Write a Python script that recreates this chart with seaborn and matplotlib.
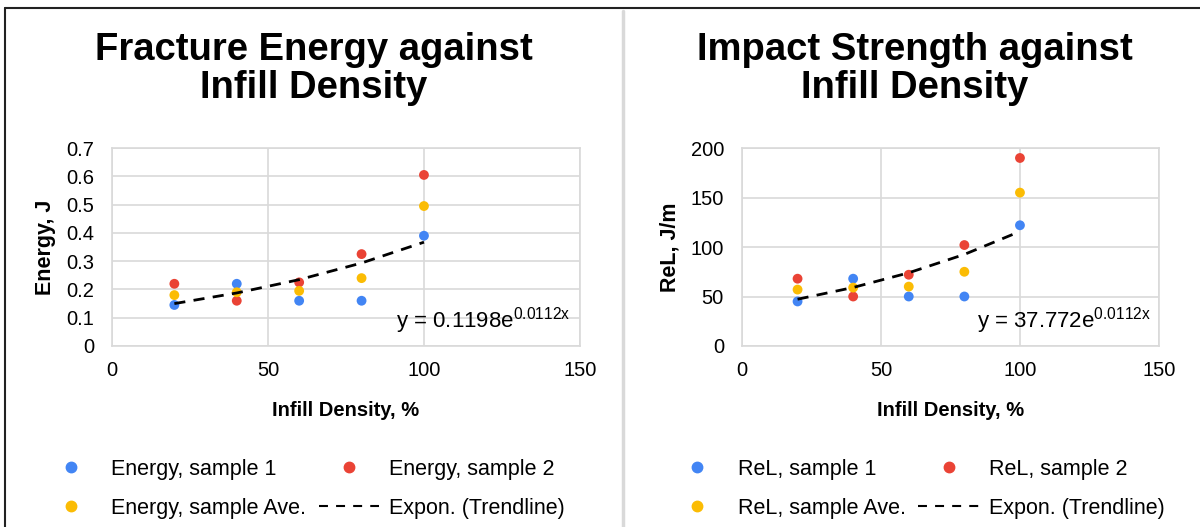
"""Fracture energy and impact strength against infill density."""

import matplotlib
matplotlib.use("Agg")
import matplotlib.pyplot as plt
import numpy as np
import pandas as pd
import seaborn as sns
from matplotlib.lines import Line2D

# ---- data ----
infill = [20, 40, 60, 80, 100]

energy_s1 = [0.145, 0.22, 0.16, 0.16, 0.39]
energy_s2 = [0.22, 0.16, 0.225, 0.325, 0.605]
energy_ave = [0.18, 0.19, 0.195, 0.24, 0.495]

rel_s1 = [45, 68, 50, 50, 122]
rel_s2 = [68, 50, 72, 102, 190]
rel_ave = [57, 59, 60, 75, 155]

# exponential trendlines as printed on the charts: y = a * exp(b * x)
energy_trend = (0.1198, 0.0112)
rel_trend = (37.772, 0.0112)

BLUE, RED, YELLOW = "#4285F4", "#EA4335", "#FBBC04"
GRID = "#D9D9D9"
FONT = ["Liberation Sans", "DejaVu Sans"]

sns.set_theme(style="whitegrid")
plt.rcParams["font.family"] = FONT
plt.rcParams["mathtext.fontset"] = "custom"
plt.rcParams["mathtext.rm"] = "Liberation Sans"
plt.rcParams.update({
    "text.color": "black",
    "axes.labelcolor": "black",
    "xtick.color": "black",
    "ytick.color": "black",
})


def draw_panel(fig, rect, title, title_x, ylabel, prefix, s1, s2, ave, trend,
               ylim, yticks, eq_text, legend_x):
    ax = fig.add_axes(rect)
    df = pd.DataFrame({
        "x": infill * 3,
        "y": s1 + s2 + ave,
        "series": [f"{prefix}, sample 1"] * 5 + [f"{prefix}, sample 2"] * 5
        + [f"{prefix}, sample Ave."] * 5,
    })
    palette = dict(zip(df["series"].unique(), [BLUE, RED, YELLOW]))
    sns.scatterplot(data=df, x="x", y="y", hue="series", palette=palette,
                    s=50, linewidth=0, legend=False, ax=ax, zorder=3)

    a, b = trend
    tx = np.array(infill, dtype=float)
    ax.plot(tx, a * np.exp(b * tx), color="black", lw=2,
            linestyle=(0, (4, 3)), zorder=4)

    ax.set_xlim(0, 150)
    ax.set_xticks([0, 50, 100, 150])
    ax.set_ylim(*ylim)
    ax.set_yticks(yticks)
    ax.set_yticklabels([f"{t:g}" for t in yticks])
    ax.grid(True, color=GRID, lw=1.2)
    for sp in ax.spines.values():
        sp.set_color(GRID)
        sp.set_linewidth(1.2)
    ax.tick_params(length=0, labelsize=14.5)
    ax.tick_params(axis="x", pad=11)
    ax.tick_params(axis="y", pad=13)
    ax.set_xlabel("Infill Density, %", fontsize=14.5, fontweight="bold", labelpad=15)
    ax.set_ylabel(ylabel, fontsize=15.5, fontweight="bold", labelpad=7)
    ax.set_facecolor("white")

    ax.text(0.98, 0.13, eq_text, transform=ax.transAxes, ha="right",
            va="center", fontsize=16)

    fig.text(title_x, 0.939, title, ha="center", va="top", fontsize=27.5,
             fontweight="bold", linespacing=1.08)

    handles = [
        Line2D([], [], marker="o", color=BLUE, ls="none", markersize=7.5),
        Line2D([], [], marker="o", color=YELLOW, ls="none", markersize=7.5),
        Line2D([], [], marker="o", color=RED, ls="none", markersize=7.5),
        Line2D([], [], color="black", lw=1.5, ls=(0, (4.3, 3.9))),
    ]
    labels = [f"{prefix}, sample 1", f"{prefix}, sample Ave.",
              f"{prefix}, sample 2", "Expon. (Trendline)"]
    fig.legend(handles, labels, ncol=2, loc="upper left",
               bbox_to_anchor=(legend_x, 0.15), frameon=False,
               fontsize=15.5, handlelength=2.8, handletextpad=0.47,
               columnspacing=0.6, labelspacing=0.85, borderpad=0)
    return ax


fig = plt.figure(figsize=(12, 5.27), dpi=100)
fig.patch.set_facecolor("white")

draw_panel(fig, [0.0933, 0.3435, 0.3900, 0.3755],
           "Fracture Energy against\nInfill Density", 0.2617,
           "Energy, J", "Energy", energy_s1, energy_s2, energy_ave,
           energy_trend, (0, 0.7), [0, 0.1, 0.2, 0.3, 0.4, 0.5, 0.6, 0.7],
           r"y = 0.1198e$^{\mathregular{0.0112x}}$", 0.025)

draw_panel(fig, [0.6183, 0.3435, 0.3475, 0.3755],
           "Impact Strength against\nInfill Density", 0.7625,
           "ReL, J/m", "ReL", rel_s1, rel_s2, rel_ave,
           rel_trend, (0, 200), [0, 50, 100, 150, 200],
           r"y = 37.772e$^{\mathregular{0.0112x}}$", 0.547)

# outer frame and panel divider
fig.add_artist(Line2D([0.004, 1.0], [0.985, 0.985], color="#222222", lw=1.5,
                      transform=fig.transFigure))
fig.add_artist(Line2D([0.004, 0.004], [0.0, 0.985], color="#222222", lw=1.5,
                      transform=fig.transFigure))
fig.add_artist(Line2D([0.5195, 0.5195], [0.0, 0.98], color=GRID, lw=2.5,
                      transform=fig.transFigure))

fig.savefig("out.png", dpi=100, facecolor="white")
